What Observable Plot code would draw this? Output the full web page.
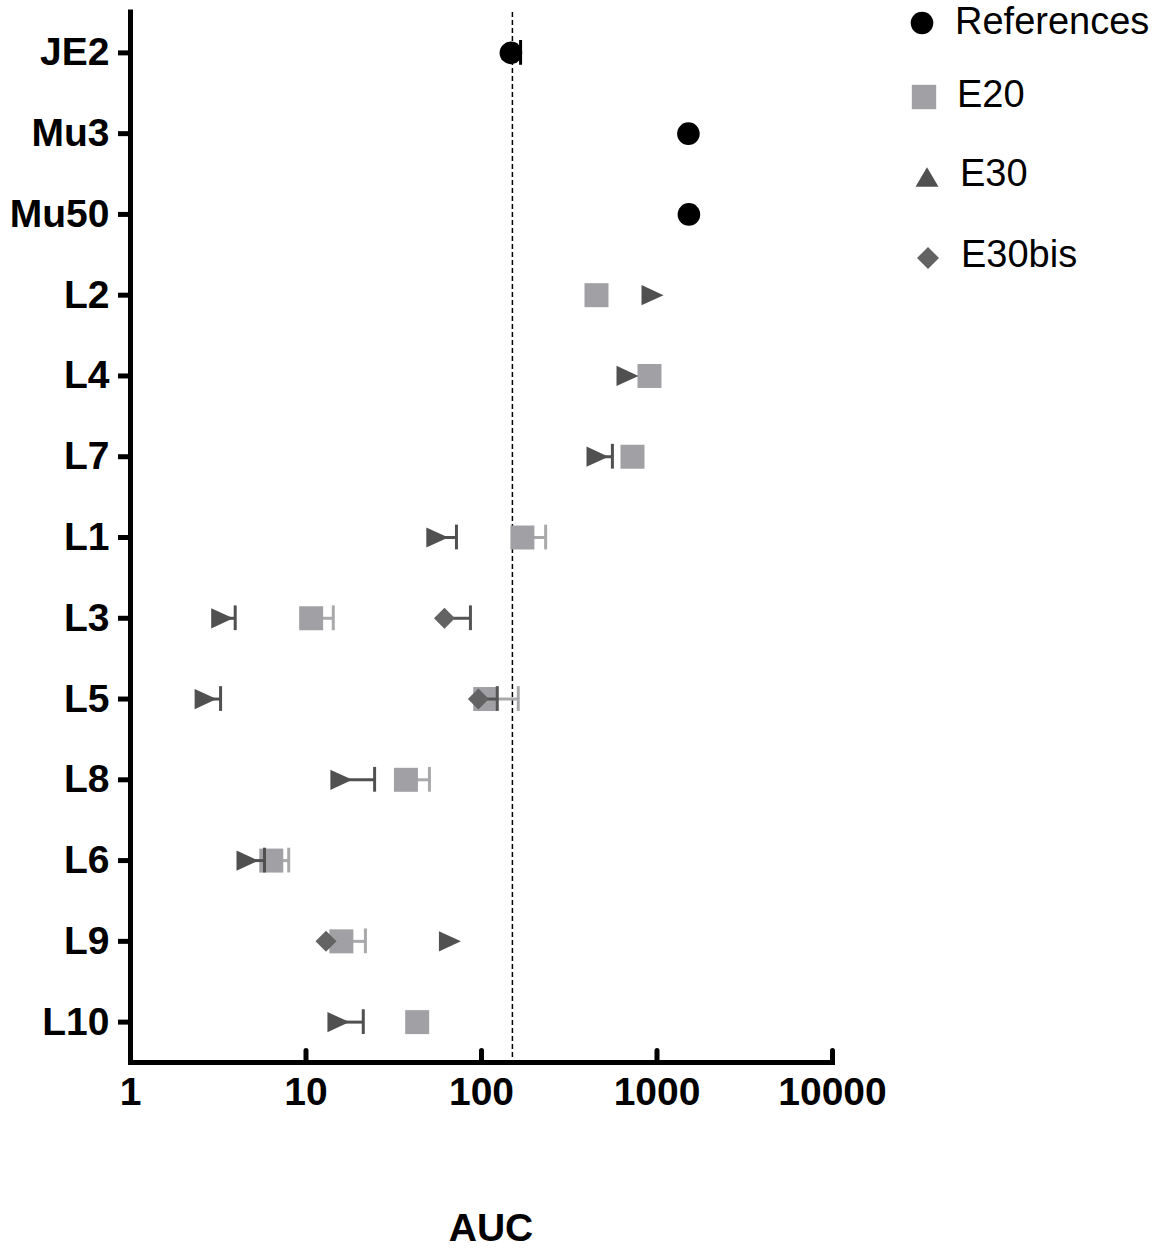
<!DOCTYPE html>
<html>
<head>
<meta charset="utf-8">
<script src="https://cdn.jsdelivr.net/npm/d3@7"></script>
<script src="https://cdn.jsdelivr.net/npm/@observablehq/plot@0.6"></script>
<style>
  html, body { margin: 0; padding: 0; background: white; }
  #wrap { position: relative; width: 1159px; height: 1251px; font-family: "Liberation Sans", Arial, sans-serif; }
  #legend { position: absolute; left: 900px; top: 0; }
  .lg { position: absolute; white-space: nowrap; font-size: 38px; color: black; line-height: 1; }
  #legend svg { position: absolute; overflow: visible; }
  #xlabel { position: absolute; left: 491px; top: 1208px; line-height: 1; transform: translateX(-50%); font-size: 39px; font-weight: bold; }
</style>
</head>
<body>
<div id="wrap">
  <div id="chart"></div>
  <div id="legend"></div>
  <div id="xlabel">AUC</div>
</div>
<script>
// ---- data ----
const categories = ["JE2", "Mu3", "Mu50", "L2", "L4", "L7", "L1", "L3", "L5", "L8", "L6", "L9", "L10"];
const xTicks = [1, 10, 100, 1000, 10000];
const threshold = 150;

const refStrains = ["JE2", "Mu3", "Mu50"];
const refAUC     = [147, 1510, 1520];
const refUpper   = [167, null, null];

const e20Strains = ["L2", "L4", "L7", "L1", "L3", "L5", "L8", "L6", "L9", "L10"];
const e20AUC     = [452, 906, 725, 171, 10.7, 105, 37.1, 6.34, 15.9, 43];
const e20Upper   = [null, null, null, 232, 14.3, 162, 50.5, 7.97, 21.8, null];

const e30Strains = ["L2", "L4", "L7", "L1", "L3", "L5", "L8", "L6", "L9", "L10"];
const e30AUC     = [943, 679, 458, 56, 3.33, 2.68, 15.9, 4.64, 66.1, 15.3];
const e30Upper   = [null, null, 557, 72, 3.95, 3.26, 24.6, 5.8, null, 21.2];

const e30bisStrains = ["L3", "L5", "L9"];
const e30bisAUC     = [61.5, 96, 13.0];
const e30bisUpper   = [86.5, 123, null];

const seriesNames = ["References", "E20", "E30", "E30bis"];
const seriesColors = ["#000000", "#a1a1a5", "#505050", "#636363"];
const errColors = ["#000000", "#a9a9ab", "#505050", "#555555"];

// ---- symbols ----
const rightTriangle = { draw(ctx, size) { const k = Math.sqrt(size / Math.PI); ctx.moveTo(-k, -k * 0.92); ctx.lineTo(k, 0); ctx.lineTo(-k, k * 0.92); ctx.closePath(); } };
const squareSym = { draw(ctx, size) { const k = Math.sqrt(size / Math.PI); ctx.rect(-k, -k, 2 * k, 2 * k); } };
const diamondSym = { draw(ctx, size) { const k = Math.sqrt(size / Math.PI); ctx.moveTo(0, -k); ctx.lineTo(k, 0); ctx.lineTo(0, k); ctx.lineTo(-k, 0); ctx.closePath(); } };
const upTriangle = { draw(ctx, size) { const k = Math.sqrt(size / Math.PI); ctx.moveTo(0, -k * 0.85); ctx.lineTo(k, k * 0.85); ctx.lineTo(-k, k * 0.85); ctx.closePath(); } };

function rows(strains, vals, ups) {
  return strains.map((s, i) => ({ strain: s, value: vals[i], upper: ups[i] }));
}
const ref = rows(refStrains, refAUC, refUpper);
const e20 = rows(e20Strains, e20AUC, e20Upper);
const e30 = rows(e30Strains, e30AUC, e30Upper);
const e30bis = rows(e30bisStrains, e30bisAUC, e30bisUpper);

const capInset = 28;
function errMarks(data, color) {
  const d = data.filter(r => r.upper != null);
  return [
    Plot.ruleY(d, { x1: "value", x2: "upper", y: "strain", stroke: color, strokeWidth: 3 }),
    Plot.tickX(d, { x: "upper", y: "strain", stroke: color, strokeWidth: 3, insetTop: capInset, insetBottom: capInset })
  ];
}

const tickShape = { draw(ctx, l) { ctx.moveTo(0, 0); ctx.lineTo(0, -l); } };
const xMin = xTicks[0];

const chart = Plot.plot({
  width: 1159,
  height: 1120,
  marginLeft: 130,
  marginRight: 327,
  marginTop: 12,
  marginBottom: 58,
  x: { type: "log", domain: [1, 10000] },
  y: { type: "band", domain: categories, padding: 0, round: false },
  style: { fontFamily: "'Liberation Sans', Arial, sans-serif", fontWeight: "bold", fontSize: "39px", color: "black", background: "white", overflow: "visible" },
  marks: [
    Plot.ruleX([threshold], { stroke: "black", strokeWidth: 1.5, strokeDasharray: "5,3" }),
    ...errMarks(e20, errColors[1]),
    Plot.dot(e20, { x: "value", y: "strain", symbol: squareSym, r: 12, fill: seriesColors[1], stroke: "none" }),
    ...errMarks(e30, errColors[2]),
    Plot.dot(e30, { x: "value", y: "strain", symbol: rightTriangle, r: 11, fill: seriesColors[2], stroke: "none" }),
    ...errMarks(e30bis, errColors[3]),
    Plot.dot(e30bis, { x: "value", y: "strain", symbol: diamondSym, r: 10.5, fill: seriesColors[3], stroke: "none" }),
    ...errMarks(ref, errColors[0]),
    Plot.dot(ref, { x: "value", y: "strain", r: 11.3, fill: seriesColors[0], stroke: "none" }),
    Plot.axisY({ tickSize: 0, tickPadding: 21, label: null, fontSize: 39, fontWeight: "bold" }),
    Plot.ruleY(categories, { y: d => d, x1: xMin, x2: xMin, insetLeft: -12, stroke: "black", strokeWidth: 5 }),
    Plot.axisX({ ticks: xTicks, tickFormat: d => String(d), tickSize: 0, tickPadding: 15, label: null, fontSize: 39, fontWeight: "bold" }),
    Plot.vector(xTicks, { x: d => d, frameAnchor: "bottom", length: 12, anchor: "start", rotate: 0, shape: tickShape, stroke: "black", strokeWidth: 5 }),
    Plot.ruleX([xMin], { stroke: "black", strokeWidth: 5, strokeLinecap: "square" }),
    Plot.frame({ anchor: "bottom", stroke: "black", strokeWidth: 5, strokeLinecap: "square" })
  ]
});
document.getElementById("chart").appendChild(chart);

// ---- legend ----
const legendSpecs = [
  { name: seriesNames[0], color: seriesColors[0], sym: d3.symbolCircle, size: Math.PI * 11.3 * 11.3, sx: 22, sy: 23, tx: 55, base: 36 },
  { name: seriesNames[1], color: seriesColors[1], sym: squareSym, size: Math.PI * 12.2 * 12.2, sx: 24, sy: 97, tx: 57, base: 109 },
  { name: seriesNames[2], color: seriesColors[2], sym: upTriangle, size: Math.PI * 11.5 * 11.5, sx: 27, sy: 177, tx: 60, base: 188 },
  { name: seriesNames[3], color: seriesColors[3], sym: diamondSym, size: Math.PI * 11 * 11, sx: 28, sy: 258, tx: 61, base: 269 }
];
const legend = document.getElementById("legend");
legendSpecs.forEach(s => {
  const svg = d3.create("svg").attr("width", 1).attr("height", 1)
    .style("left", s.sx + "px").style("top", s.sy + "px");
  svg.append("path").attr("d", d3.symbol(s.sym, s.size)()).attr("fill", s.color);
  legend.appendChild(svg.node());
  const t = document.createElement("div");
  t.className = "lg";
  t.textContent = s.name;
  t.style.left = s.tx + "px";
  t.style.top = (s.base - 38 * 0.905) + "px";
  legend.appendChild(t);
});
</script>
</body>
</html>
